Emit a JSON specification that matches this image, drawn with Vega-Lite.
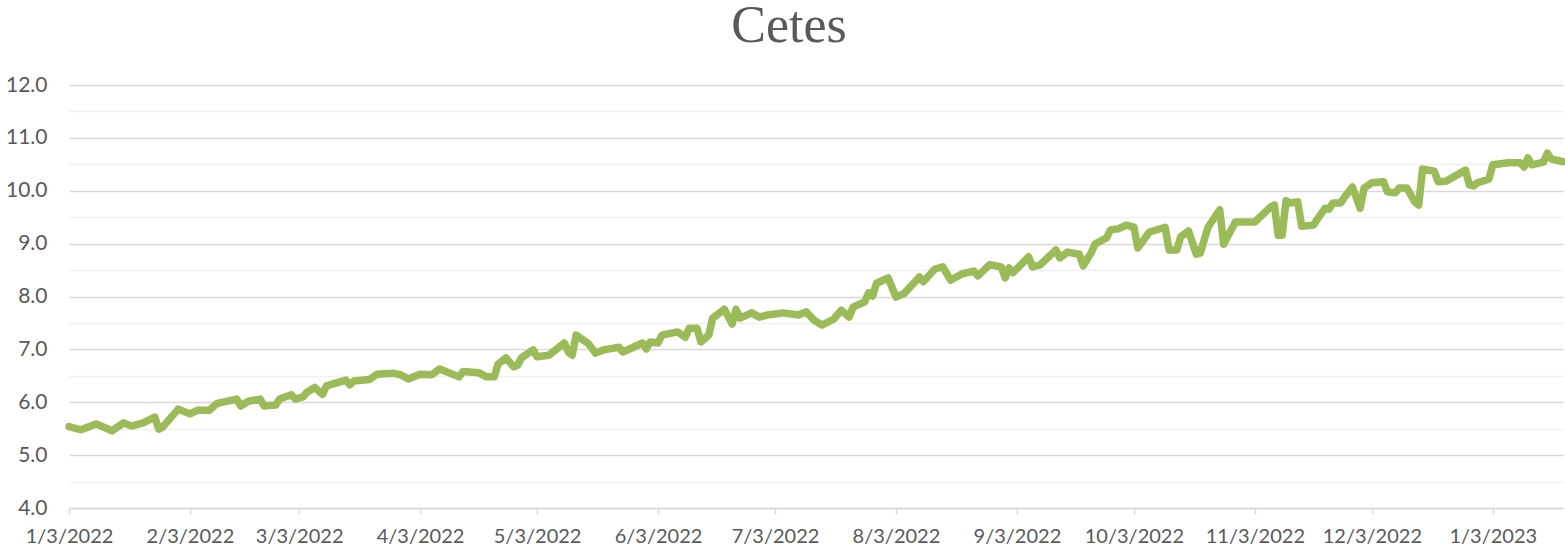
{
  "$schema": "https://vega.github.io/schema/vega-lite/v6.json",
  "autosize": "none",
  "width": 1494,
  "height": 423,
  "padding": {"left": 69, "top": 85, "right": 2, "bottom": 44},
  "background": "white",
  "title": {
    "text": "Cetes",
    "font": "Liberation Serif",
    "fontSize": 52,
    "fontWeight": "normal",
    "color": "#595959",
    "anchor": "middle",
    "dx": -27,
    "offset": 21
  },
  "data": {
    "values": [
      {"date": "2022-01-03", "v": 5.54},
      {"date": "2022-01-06", "v": 5.48},
      {"date": "2022-01-10", "v": 5.59},
      {"date": "2022-01-14", "v": 5.46},
      {"date": "2022-01-17", "v": 5.61},
      {"date": "2022-01-19", "v": 5.55},
      {"date": "2022-01-22", "v": 5.61},
      {"date": "2022-01-25", "v": 5.72},
      {"date": "2022-01-26", "v": 5.49},
      {"date": "2022-01-27", "v": 5.53},
      {"date": "2022-01-29", "v": 5.70},
      {"date": "2022-01-31", "v": 5.87},
      {"date": "2022-02-03", "v": 5.78},
      {"date": "2022-02-05", "v": 5.85},
      {"date": "2022-02-08", "v": 5.85},
      {"date": "2022-02-10", "v": 5.98},
      {"date": "2022-02-15", "v": 6.06},
      {"date": "2022-02-16", "v": 5.93},
      {"date": "2022-02-18", "v": 6.02},
      {"date": "2022-02-21", "v": 6.06},
      {"date": "2022-02-22", "v": 5.93},
      {"date": "2022-02-25", "v": 5.95},
      {"date": "2022-02-26", "v": 6.06},
      {"date": "2022-03-01", "v": 6.14},
      {"date": "2022-03-02", "v": 6.06},
      {"date": "2022-03-04", "v": 6.10},
      {"date": "2022-03-05", "v": 6.19},
      {"date": "2022-03-07", "v": 6.28},
      {"date": "2022-03-09", "v": 6.15},
      {"date": "2022-03-10", "v": 6.31},
      {"date": "2022-03-15", "v": 6.42},
      {"date": "2022-03-16", "v": 6.33},
      {"date": "2022-03-17", "v": 6.40},
      {"date": "2022-03-21", "v": 6.43},
      {"date": "2022-03-23", "v": 6.53},
      {"date": "2022-03-27", "v": 6.55},
      {"date": "2022-03-29", "v": 6.52},
      {"date": "2022-03-31", "v": 6.44},
      {"date": "2022-04-03", "v": 6.53},
      {"date": "2022-04-06", "v": 6.52},
      {"date": "2022-04-08", "v": 6.63},
      {"date": "2022-04-13", "v": 6.48},
      {"date": "2022-04-14", "v": 6.58},
      {"date": "2022-04-18", "v": 6.56},
      {"date": "2022-04-20", "v": 6.48},
      {"date": "2022-04-22", "v": 6.48},
      {"date": "2022-04-23", "v": 6.72},
      {"date": "2022-04-25", "v": 6.84},
      {"date": "2022-04-27", "v": 6.67},
      {"date": "2022-04-28", "v": 6.70},
      {"date": "2022-04-29", "v": 6.84},
      {"date": "2022-05-02", "v": 6.99},
      {"date": "2022-05-03", "v": 6.86},
      {"date": "2022-05-06", "v": 6.89},
      {"date": "2022-05-10", "v": 7.12},
      {"date": "2022-05-11", "v": 6.95},
      {"date": "2022-05-12", "v": 6.89},
      {"date": "2022-05-13", "v": 7.27},
      {"date": "2022-05-16", "v": 7.12},
      {"date": "2022-05-18", "v": 6.93},
      {"date": "2022-05-20", "v": 6.99},
      {"date": "2022-05-24", "v": 7.04},
      {"date": "2022-05-25", "v": 6.95},
      {"date": "2022-05-30", "v": 7.12},
      {"date": "2022-05-31", "v": 7.01},
      {"date": "2022-06-01", "v": 7.14},
      {"date": "2022-06-03", "v": 7.12},
      {"date": "2022-06-04", "v": 7.27},
      {"date": "2022-06-08", "v": 7.33},
      {"date": "2022-06-10", "v": 7.23},
      {"date": "2022-06-11", "v": 7.40},
      {"date": "2022-06-13", "v": 7.40},
      {"date": "2022-06-14", "v": 7.14},
      {"date": "2022-06-16", "v": 7.27},
      {"date": "2022-06-17", "v": 7.59},
      {"date": "2022-06-20", "v": 7.76},
      {"date": "2022-06-22", "v": 7.48},
      {"date": "2022-06-23", "v": 7.76},
      {"date": "2022-06-24", "v": 7.59},
      {"date": "2022-06-27", "v": 7.69},
      {"date": "2022-06-29", "v": 7.61},
      {"date": "2022-07-01", "v": 7.65},
      {"date": "2022-07-05", "v": 7.69},
      {"date": "2022-07-09", "v": 7.65},
      {"date": "2022-07-11", "v": 7.71},
      {"date": "2022-07-13", "v": 7.55},
      {"date": "2022-07-15", "v": 7.46},
      {"date": "2022-07-18", "v": 7.57},
      {"date": "2022-07-20", "v": 7.74},
      {"date": "2022-07-22", "v": 7.61},
      {"date": "2022-07-23", "v": 7.80},
      {"date": "2022-07-26", "v": 7.90},
      {"date": "2022-07-27", "v": 8.07},
      {"date": "2022-07-28", "v": 8.01},
      {"date": "2022-07-29", "v": 8.25},
      {"date": "2022-08-01", "v": 8.35},
      {"date": "2022-08-03", "v": 7.99},
      {"date": "2022-08-05", "v": 8.05},
      {"date": "2022-08-09", "v": 8.37},
      {"date": "2022-08-10", "v": 8.28},
      {"date": "2022-08-13", "v": 8.52},
      {"date": "2022-08-15", "v": 8.56},
      {"date": "2022-08-17", "v": 8.31},
      {"date": "2022-08-20", "v": 8.43},
      {"date": "2022-08-23", "v": 8.48},
      {"date": "2022-08-24", "v": 8.39},
      {"date": "2022-08-27", "v": 8.60},
      {"date": "2022-08-30", "v": 8.56},
      {"date": "2022-08-31", "v": 8.35},
      {"date": "2022-09-01", "v": 8.54},
      {"date": "2022-09-02", "v": 8.45},
      {"date": "2022-09-06", "v": 8.75},
      {"date": "2022-09-07", "v": 8.56},
      {"date": "2022-09-09", "v": 8.60},
      {"date": "2022-09-13", "v": 8.88},
      {"date": "2022-09-14", "v": 8.73},
      {"date": "2022-09-16", "v": 8.84},
      {"date": "2022-09-19", "v": 8.80},
      {"date": "2022-09-20", "v": 8.58},
      {"date": "2022-09-22", "v": 8.82},
      {"date": "2022-09-23", "v": 8.99},
      {"date": "2022-09-26", "v": 9.11},
      {"date": "2022-09-27", "v": 9.26},
      {"date": "2022-09-29", "v": 9.28},
      {"date": "2022-10-01", "v": 9.35},
      {"date": "2022-10-03", "v": 9.31},
      {"date": "2022-10-04", "v": 8.92},
      {"date": "2022-10-07", "v": 9.22},
      {"date": "2022-10-11", "v": 9.31},
      {"date": "2022-10-12", "v": 8.88},
      {"date": "2022-10-14", "v": 8.88},
      {"date": "2022-10-15", "v": 9.13},
      {"date": "2022-10-17", "v": 9.24},
      {"date": "2022-10-19", "v": 8.80},
      {"date": "2022-10-20", "v": 8.82},
      {"date": "2022-10-22", "v": 9.31},
      {"date": "2022-10-25", "v": 9.64},
      {"date": "2022-10-26", "v": 8.99},
      {"date": "2022-10-27", "v": 9.13},
      {"date": "2022-10-29", "v": 9.41},
      {"date": "2022-11-03", "v": 9.41},
      {"date": "2022-11-07", "v": 9.69},
      {"date": "2022-11-08", "v": 9.73},
      {"date": "2022-11-09", "v": 9.16},
      {"date": "2022-11-10", "v": 9.16},
      {"date": "2022-11-11", "v": 9.81},
      {"date": "2022-11-12", "v": 9.77},
      {"date": "2022-11-14", "v": 9.79},
      {"date": "2022-11-15", "v": 9.33},
      {"date": "2022-11-18", "v": 9.35},
      {"date": "2022-11-21", "v": 9.67},
      {"date": "2022-11-22", "v": 9.65},
      {"date": "2022-11-23", "v": 9.77},
      {"date": "2022-11-25", "v": 9.77},
      {"date": "2022-11-26", "v": 9.88},
      {"date": "2022-11-28", "v": 10.07},
      {"date": "2022-11-30", "v": 9.67},
      {"date": "2022-12-01", "v": 10.05},
      {"date": "2022-12-03", "v": 10.15},
      {"date": "2022-12-06", "v": 10.17},
      {"date": "2022-12-07", "v": 9.98},
      {"date": "2022-12-09", "v": 9.96},
      {"date": "2022-12-10", "v": 10.05},
      {"date": "2022-12-12", "v": 10.05},
      {"date": "2022-12-14", "v": 9.79},
      {"date": "2022-12-15", "v": 9.73},
      {"date": "2022-12-16", "v": 10.41},
      {"date": "2022-12-19", "v": 10.37},
      {"date": "2022-12-20", "v": 10.17},
      {"date": "2022-12-22", "v": 10.18},
      {"date": "2022-12-27", "v": 10.39},
      {"date": "2022-12-28", "v": 10.11},
      {"date": "2022-12-29", "v": 10.09},
      {"date": "2022-12-30", "v": 10.15},
      {"date": "2023-01-02", "v": 10.22},
      {"date": "2023-01-03", "v": 10.49},
      {"date": "2023-01-05", "v": 10.51},
      {"date": "2023-01-07", "v": 10.53},
      {"date": "2023-01-10", "v": 10.53},
      {"date": "2023-01-11", "v": 10.45},
      {"date": "2023-01-12", "v": 10.62},
      {"date": "2023-01-13", "v": 10.49},
      {"date": "2023-01-16", "v": 10.54},
      {"date": "2023-01-17", "v": 10.71},
      {"date": "2023-01-18", "v": 10.60},
      {"date": "2023-01-21", "v": 10.55}
    ]
  },
  "mark": {"type": "line", "color": "#9BBB59", "strokeWidth": 7.5, "strokeJoin": "round", "strokeCap": "round", "clip": false},
  "encoding": {
    "x": {
      "field": "date",
      "type": "temporal",
      "title": null,
      "scale": {
        "type": "utc",
        "domain": [
          {"year": 2022, "month": 1, "date": 3, "utc": true},
          {"year": 2023, "month": 1, "date": 21, "utc": true}
        ]
      },
      "axis": {
        "values": [
          {"year": 2022, "month": 1, "date": 3, "utc": true},
          {"year": 2022, "month": 2, "date": 3, "utc": true},
          {"year": 2022, "month": 3, "date": 3, "utc": true},
          {"year": 2022, "month": 4, "date": 3, "utc": true},
          {"year": 2022, "month": 5, "date": 3, "utc": true},
          {"year": 2022, "month": 6, "date": 3, "utc": true},
          {"year": 2022, "month": 7, "date": 3, "utc": true},
          {"year": 2022, "month": 8, "date": 3, "utc": true},
          {"year": 2022, "month": 9, "date": 3, "utc": true},
          {"year": 2022, "month": 10, "date": 3, "utc": true},
          {"year": 2022, "month": 11, "date": 3, "utc": true},
          {"year": 2022, "month": 12, "date": 3, "utc": true},
          {"year": 2023, "month": 1, "date": 3, "utc": true}
        ],
        "labelExpr": "utcFormat(datum.value, '%-m/%-d/%Y')",
        "grid": false,
        "domainColor": "#D9D9D9",
        "domainWidth": 1.5,
        "tickColor": "#D9D9D9",
        "tickWidth": 1.5,
        "tickSize": 6,
        "labelFont": "Lato",
        "labelFontSize": 20,
        "labelColor": "#595959",
        "labelPadding": 12,
        "labelOverlap": false,
        "labelFlush": false
      }
    },
    "y": {
      "field": "v",
      "type": "quantitative",
      "title": null,
      "scale": {"domain": [4, 12], "nice": false, "zero": false},
      "axis": {
        "values": [4, 4.5, 5, 5.5, 6, 6.5, 7, 7.5, 8, 8.5, 9, 9.5, 10, 10.5, 11, 11.5, 12],
        "labelExpr": "datum.value % 1 === 0 ? format(datum.value, '.1f') : ''",
        "domain": false,
        "ticks": false,
        "grid": true,
        "gridColor": {"condition": {"test": "datum.value % 1 === 0", "value": "#D9D9D9"}, "value": "#F0F0F0"},
        "gridWidth": 1.5,
        "labelFont": "Lato",
        "labelFontSize": 21,
        "labelColor": "#595959",
        "labelPadding": 22
      }
    }
  },
  "config": {"view": {"stroke": null}}
}
